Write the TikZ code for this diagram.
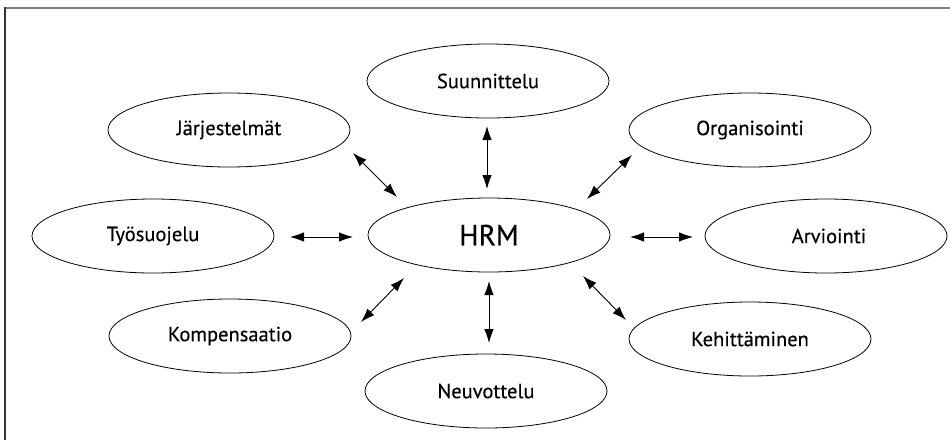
\documentclass[tikz,border=0pt]{standalone}
\usepackage{fontspec}
\setmainfont{PT Sans}[UprightFeatures={FakeBold=0.35}]
\usetikzlibrary{shapes.geometric,arrows.meta}
\begin{document}
\begin{tikzpicture}[x=1pt,y=-1pt,
  topic/.style={ellipse,draw,line width=0.8pt,minimum width=242pt,minimum height=74pt,inner sep=0pt,font=\fontsize{20.5}{24}\selectfont},
  hub/.style={topic,font=\fontsize{29}{33}\selectfont},
  link/.style={line width=0.9pt,{Latex[length=14pt,width=9.5pt]}-{Latex[length=14pt,width=9.5pt]}},
  frame/.style={line width=1.6pt}]
  \useasboundingbox (0,0) rectangle (950,440);
  % open frame: top and left edges
  \draw[frame,gray] (4,8) -- (950,8);
  \draw[frame,black!80] (5,7.2) -- (5,440);

  % nodes
  \node[hub]   (hrm) at (489,235) {HRM};
  \node[topic] (suu) at (488,81)  {Suunnittelu};
  \node[topic] (jar) at (229,130) {Järjestelmät};
  \node[topic] (org) at (750,130) {Organisointi};
  \node[topic] (tyo) at (153,236) {Työsuojelu};
  \node[topic] (arv) at (826,236) {\hspace*{6pt}Arviointi};
  \node[topic] (kom) at (230,336) {Kompensaatio};
  \node[topic] (keh) at (750,339) {Kehittäminen};
  \node[topic] (neu) at (486,391) {Neuvottelu};

  % connector end points in the gaps around the hub
  \coordinate (jar-a) at (353,153); \coordinate (jar-b) at (397,197);
  \coordinate (suu-a) at (487,126); \coordinate (suu-b) at (487,189);
  \coordinate (org-a) at (632,155); \coordinate (org-b) at (587,199);
  \coordinate (tyo-a) at (290,237); \coordinate (tyo-b) at (353,237);
  \coordinate (arv-a) at (630,237); \coordinate (arv-b) at (693,237);
  \coordinate (kom-a) at (404,278); \coordinate (kom-b) at (361,322);
  \coordinate (neu-a) at (489,281); \coordinate (neu-b) at (489,343);
  \coordinate (keh-a) at (583,276); \coordinate (keh-b) at (626,320);

  % two-way links
  \foreach \n in {jar,suu,org,tyo,arv,kom,neu,keh}
    \draw[link] (\n-a) -- (\n-b);
\end{tikzpicture}
\end{document}
